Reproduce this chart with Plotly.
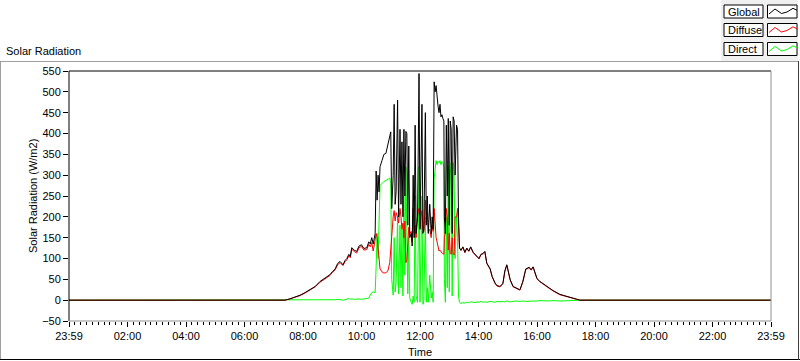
import plotly.graph_objects as go

# time of day in minutes
times = [
    0, 443, 453, 464, 474, 484, 494, 505, 515, 525,
    535, 540, 546, 551, 556, 562, 566, 570, 574, 577,
    580, 585, 590, 595, 600, 605, 611, 615, 618, 621,
    624, 628, 630, 632, 634, 636, 638, 642, 646, 650,
    654, 658, 660, 662, 665, 667, 669, 671, 674, 676,
    679, 681, 683, 685, 687, 689, 691, 693, 695, 697,
    699, 702, 704, 706, 708, 710, 712, 715, 718, 720,
    722, 724, 726, 728, 731, 733, 735, 737, 740, 743,
    745, 747, 749, 751, 753, 755, 757, 759, 761, 763,
    765, 767, 769, 770, 772, 774, 776, 778, 780, 782,
    784, 786, 788, 790, 792, 795, 797, 799, 801, 804,
    808, 812, 816, 820, 824, 829, 833, 837, 841, 845,
    849, 853, 857, 864, 868, 874, 878, 884, 890, 894,
    898, 901, 905, 911, 917, 925, 931, 937, 944, 948,
    952, 960, 966, 981, 993, 1007, 1022, 1034, 1042, 1048,
    1440,
]

global_rad = [
    0, 0, 3, 7, 12, 18, 25, 33, 45, 52,
    61, 68, 75, 88, 93, 85, 95, 100, 110, 105,
    126, 120, 117, 130, 133, 124, 126, 140, 135, 150,
    135, 160, 310, 240, 300, 260, 320, 335, 350, 352,
    370, 395, 404, 220, 300, 470, 230, 260, 480, 200,
    410, 230, 380, 200, 410, 250, 405, 400, 180, 370,
    150, 160, 130, 300, 150, 420, 160, 200, 544, 170,
    300, 470, 160, 170, 450, 180, 250, 160, 230, 160,
    200, 170, 524, 500, 515, 480, 466, 450, 470, 440,
    445, 436, 430, 200, 160, 420, 250, 436, 180, 430,
    410, 160, 440, 430, 300, 420, 410, 200, 125, 120,
    128, 115, 125, 118, 128, 115, 110, 105, 100, 110,
    112, 117, 89, 75, 57, 41, 35, 33, 40, 70,
    85, 70, 49, 33, 30, 25, 45, 75, 79, 73,
    80, 52, 45, 33, 23, 14, 9, 5, 1, 0,
    0,
]

diffuse_rad = [
    0, 0, 3, 7, 11, 17, 24, 32, 43, 51,
    59, 66, 73, 85, 90, 83, 92, 97, 106, 102,
    122, 117, 113, 126, 129, 120, 122, 134, 128, 138,
    118, 145, 160, 150, 120, 90, 75, 68, 65, 66,
    70, 90, 130, 170, 200, 215, 190, 210, 200, 185,
    220, 200, 170, 185, 150, 190, 90, 95, 130, 175,
    160, 165, 140, 220, 160, 180, 150, 205, 220, 175,
    200, 215, 170, 165, 240, 185, 210, 165, 170, 150,
    180, 165, 220, 180, 150, 140, 125, 118, 120, 115,
    113, 112, 110, 150, 165, 220, 200, 120, 160, 112,
    110, 150, 110, 108, 200, 200, 220, 180, 125, 119,
    127, 114, 124, 117, 127, 114, 109, 104, 99, 109,
    111, 116, 88, 74, 56, 40, 34, 32, 39, 69,
    84, 69, 48, 32, 29, 24, 44, 74, 78, 72,
    79, 51, 44, 32, 22, 13, 8, 4, 1, 0,
    0,
]

direct_rad = [
    0, 0, 0, 0, 1, 0, 1, 0, 1, 0,
    1, 0, 1, 2, 1, 0, 1, 2, 4, 2,
    3, 2, 3, 3, 2, 3, 3, 5, 12, 18,
    20, 18, 80, 160, 100, 230, 275, 280, 285, 287,
    290, 293, 280, 50, 12, 150, 20, 40, 200, 15,
    180, 30, 170, 10, 250, 60, 320, 200, 15, 150,
    5, -5, -10, 10, -5, 250, 10, -5, 320, -5,
    100, 250, -10, 0, 200, -5, 30, -5, 60, 5,
    20, -5, 290, 320, 335, 325, 333, 330, 335, 325,
    332, 330, 320, 50, -5, 200, 30, 320, 20, 300,
    330, 10, 330, 300, 100, 200, 150, 10, -5, -8,
    -6, -7, -5, -6, -4, -5, -6, -4, -5, -3,
    -5, -4, -5, -3, -4, -5, -3, -4, -3, -4,
    -2, -3, -4, -3, -2, -3, -2, -3, -2, -3,
    -2, -2, -1, -2, -1, -2, -1, -1, 0, 0,
    0,
]

tick_vals = [0, 120, 240, 360, 480, 600, 720, 840, 960, 1080, 1200, 1320, 1440]
tick_text = ["23:59", "02:00", "04:00", "06:00", "08:00", "10:00", "12:00",
             "14:00", "16:00", "18:00", "20:00", "22:00", "23:59"]

series_names = ["Global", "Diffuse", "Direct"]
series_colors = ["#000000", "#ff0000", "#00ff00"]

FONT = "Liberation Sans"
W, H = 800, 361
PL, PR, PT, PB = 69, 771, 71, 321


def px(x):
    return (x - PL) / (PR - PL)


def py(y):
    return (PB - y) / (PB - PT)


fig = go.Figure()
# draw order: Direct, Diffuse, Global (global on top)
for vals, name, col in [(direct_rad, "Direct", "#00ff00"),
                        (diffuse_rad, "Diffuse", "#ff0000"),
                        (global_rad, "Global", "#000000")]:
    fig.add_trace(go.Scatter(x=times, y=vals, mode="lines", name=name,
                             line=dict(color=col, width=1), showlegend=False))

shapes = []


def line(x0, y0, x1, y1, color, width=1):
    shapes.append(dict(type="line", xref="paper", yref="paper",
                       x0=px(x0), y0=py(y0), x1=px(x1), y1=py(y1),
                       line=dict(color=color, width=width)))


# legend background
shapes.append(dict(type="rect", xref="paper", yref="paper",
                   x0=px(721), y0=py(0), x1=px(798), y1=py(61),
                   fillcolor="#f0f0f0", line=dict(width=0), layer="below"))
# outer frame
line(0, 61.5, 798, 61.5, "#a0a0a0")
line(0.5, 61, 0.5, 360, "#a0a0a0")
line(0, 359.5, 800, 359.5, "#000000")
line(798.5, 61, 798.5, 360, "#404040")
# plot area border
line(PL, PT, PR, PT, "#000000")
line(PL, PT, PL, PB, "#000000")
line(PR, PT, PR, PB, "#909090")
line(PL, PB, PR, PB, "#909090")

annotations = []
box_tops = [5, 23.5, 42.5]
zig = [(0, 8), (6, 3), (12.5, 7.5), (18, 6), (24, 2.3), (28, 4.3)]
for i, (name, col) in enumerate(zip(series_names, series_colors)):
    top = box_tops[i]
    bot = top + 13
    shapes.append(dict(type="rect", xref="paper", yref="paper",
                       x0=px(724), y0=py(top), x1=px(763), y1=py(bot),
                       fillcolor="#ffffff", line=dict(color="#000000", width=1)))
    shapes.append(dict(type="rect", xref="paper", yref="paper",
                       x0=px(767.5), y0=py(top), x1=px(797), y1=py(bot),
                       fillcolor="#ffffff", line=dict(color="#000000", width=1)))
    path = "M " + " L ".join(f"{px(769 + dx):.5f},{py(top + 1 + dy):.5f}" for dx, dy in zig)
    shapes.append(dict(type="path", xref="paper", yref="paper", path=path,
                       line=dict(color=col, width=1)))
    annotations.append(dict(text=name, xref="paper", yref="paper",
                            x=px(725.5), y=py(top + 6.8), xanchor="left", yanchor="middle",
                            showarrow=False, font=dict(family=FONT, size=11, color="#000000")))

annotations.append(dict(text="Solar Radiation", xref="paper", yref="paper",
                        x=px(4), y=py(51), xanchor="left", yanchor="middle",
                        showarrow=False, font=dict(family=FONT, size=11, color="#000000")))
annotations.append(dict(text="Solar Radiation (W/m2)", xref="paper", yref="paper",
                        x=px(33), y=py(196), xanchor="center", yanchor="middle",
                        textangle=-90, showarrow=False,
                        font=dict(family=FONT, size=11, color="#000000")))
annotations.append(dict(text="Time", xref="paper", yref="paper",
                        x=px(420), y=py(352), xanchor="center", yanchor="middle",
                        showarrow=False, font=dict(family=FONT, size=11, color="#000000")))

fig.update_layout(
    width=W, height=H,
    margin=dict(l=PL, r=W - PR, t=PT, b=H - PB, pad=0),
    paper_bgcolor="#ffffff", plot_bgcolor="#ffffff",
    font=dict(family=FONT, size=11, color="#000000"),
    shapes=shapes, annotations=annotations, showlegend=False,
    xaxis=dict(range=[0, 1440], tickmode="array", tickvals=tick_vals, ticktext=tick_text,
               ticks="outside", ticklen=5, tickwidth=1, tickcolor="#000000",
               showgrid=False, zeroline=False, showline=False,
               tickfont=dict(family=FONT, size=11, color="#000000"),
               minor=dict(tick0=0, dtick=12, ticks="outside", ticklen=3,
                          tickcolor="#000000", showgrid=False)),
    yaxis=dict(range=[-50, 550], tick0=0, dtick=50,
               ticks="outside", ticklen=5, tickwidth=1, tickcolor="#000000",
               showgrid=False, zeroline=False, showline=False,
               tickfont=dict(family=FONT, size=11, color="#000000")),
)

fig.write_html("out.html", config={"displayModeBar": False},
               post_script="document.body.style.margin='0';document.body.style.overflow='hidden';")
